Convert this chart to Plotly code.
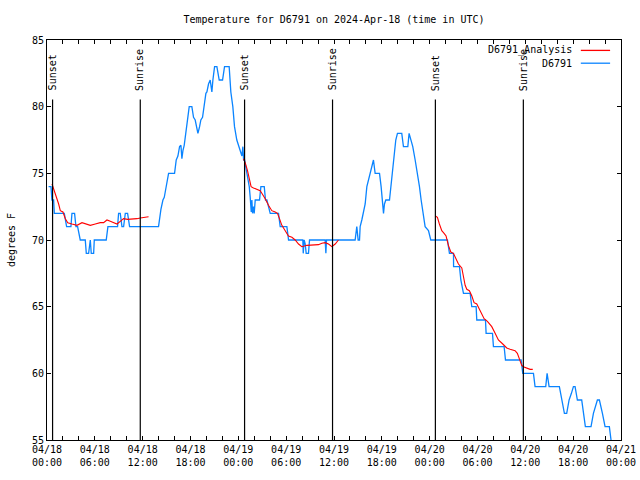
import pandas as pd
import plotly.graph_objects as go

START = pd.Timestamp("2024-04-18 00:00")

# Observed station data (hours since 04/18 00:00 UTC, degrees F)
obs_hours = [0.20, 0.50, 0.62, 0.83, 0.92, 2.17, 2.46, 3.00, 3.13, 3.46, 3.63, 3.84, 4.17, 4.80,
             4.93, 5.22, 5.43, 5.55, 5.85, 5.93, 7.43, 7.64, 8.85, 8.98, 9.19, 9.40, 9.61, 9.82,
             10.11, 10.36, 13.99, 14.12, 14.29, 14.54, 14.71, 14.83, 15.04, 15.25, 16.00, 16.21,
             16.42, 16.63, 16.80, 16.92, 17.05, 17.21, 17.34, 17.55, 17.67, 17.84, 18.17, 18.38,
             18.59, 18.80, 18.93, 19.14, 19.30, 19.51, 19.64, 19.76, 19.93, 20.06, 20.26, 20.47,
             20.60, 20.68, 20.81, 20.89, 21.02, 21.31, 21.60, 22.02, 22.27, 22.85, 23.06, 23.31,
             23.52, 23.81, 24.07, 24.36, 24.45, 24.57, 24.66, 24.78, 24.99, 25.20, 25.37, 25.49,
             25.62, 25.70, 25.78, 25.91, 25.99, 26.12, 26.66, 26.83, 27.25, 27.41, 27.58, 28.00,
             29.04, 29.25, 30.09, 30.30, 32.09, 32.14, 32.26, 32.39, 32.51, 32.80, 32.93, 34.89,
             34.98, 35.06, 38.65, 38.86, 39.03, 39.20, 39.28, 39.49, 39.70, 39.91, 40.12, 40.33,
             40.54, 40.74, 40.95, 41.16, 41.71, 41.91, 42.12, 42.21, 42.33, 42.50, 42.96, 43.13,
             43.38, 43.54, 43.75, 43.96, 44.50, 44.71, 45.26, 45.42, 45.63, 45.88, 46.18, 46.47,
             46.72, 46.93, 47.14, 47.43, 47.85, 48.14, 50.23, 50.48, 50.99, 51.00, 51.74, 51.91,
             52.24, 53.08, 53.28, 53.83, 53.91, 55.00, 55.08, 55.88, 56.00, 57.34, 57.51, 59.47,
             59.68, 61.02, 61.22, 62.56, 62.73, 62.98, 64.27, 64.57, 64.90, 65.19, 65.49, 65.78,
             66.03, 66.24, 66.53, 67.07, 67.28, 67.53, 68.24, 68.54, 69.04, 69.29, 69.67, 70.00,
             70.54, 70.75]
obs_temp = [74, 74, 73, 73, 72, 72, 71, 71, 72, 72, 71, 71, 70, 70,
            69, 69, 70, 69, 69, 70, 70, 71, 71, 72, 72, 71, 71, 72,
            72, 71, 71, 71.7, 72.3, 73, 73.2, 73.6, 74.2, 75, 75, 76,
            76.3, 77, 77.1, 76.1, 76.7, 77.1, 77.7, 78.7, 79.5, 80, 80, 79.2,
            79, 78.5, 78, 78.5, 79, 79.2, 79.7, 80.3, 81, 81.1, 81.7, 82,
            81.6, 81.1, 82, 82.5, 83, 83, 82, 82, 83, 83, 81.1, 80,
            78.5, 77.5, 77, 76.5, 76.3, 77, 76, 76, 75.2, 74.7, 74, 73.2,
            72.1, 73, 72, 72.5, 72, 73, 73, 74, 74, 73, 73, 72,
            72, 71, 71, 70, 70, 69, 70, 69.7, 69, 69, 70, 70,
            69, 70, 70, 71, 70, 70, 71, 71.5, 72, 72.7, 74, 74.5,
            75, 75.6, 76, 75, 75, 74, 72.5, 72, 72.7, 73, 73, 74,
            75.5, 76.5, 77.5, 78, 78, 77, 77, 78, 77.5, 77, 76, 75,
            74, 73, 72, 71, 70.7, 70, 70, 69, 69, 68, 68, 67,
            66, 66, 65, 65, 64, 64, 63, 63, 62, 62, 61, 61,
            60, 60, 59, 59, 60, 59, 59, 58, 57, 57, 58, 58.5,
            59, 59, 58, 58, 57, 56, 56, 57, 58, 58, 57, 56,
            56, 55]

# Analysis series (three evening-to-morning segments)
ana1_hours = [0.63, 1.04, 1.46, 1.67, 2.00, 2.30, 2.60, 3.13, 3.76, 4.39, 5.00, 5.43, 6.06, 6.68,
              7.10, 7.52, 7.94, 8.35, 8.78, 9.19, 9.60, 10.10, 10.66, 11.28, 11.70, 12.20, 12.74]
ana1_temp = [74.2, 73.5, 72.7, 72.2, 72.1, 71.6, 71.3, 71.2, 71.1, 71.3, 71.2, 71.1, 71.2, 71.3,
             71.3, 71.5, 71.4, 71.3, 71.2, 71.4, 71.6, 71.55, 71.55, 71.6, 71.65, 71.7, 71.75]
ana2_hours = [24.65, 24.86, 25.15, 25.40, 25.60, 25.90, 26.33, 26.74, 26.95, 27.37, 27.78, 28.20,
              28.62, 28.91, 29.16, 29.46, 29.88, 30.29, 30.72, 31.13, 31.55, 31.97, 32.60, 33.43,
              34.05, 34.48, 34.89, 35.31, 35.73, 36.15, 36.56]
ana2_temp = [76.1, 75.8, 75.2, 74.5, 74.0, 73.9, 73.8, 73.7, 73.5, 73.1, 72.6, 72.2,
             72.1, 72.0, 71.6, 71.1, 70.7, 70.3, 70.2, 70.0, 69.7, 69.5, 69.6, 69.6,
             69.65, 69.75, 69.8, 69.7, 69.5, 69.7, 70.0]
ana3_hours = [48.72, 48.97, 49.22, 49.52, 49.81, 50.06, 50.35, 50.65, 50.98, 51.32, 51.61, 52.03,
              52.23, 52.45, 52.66, 52.98, 53.29, 53.57, 53.91, 54.24, 54.54, 54.83, 55.24, 55.79,
              56.21, 56.62, 57.17, 57.67, 58.09, 58.71, 59.00, 59.25, 59.55, 59.75, 60.18, 60.60,
              60.93]
ana3_temp = [71.8, 71.7, 71.2, 70.7, 70.5, 70.3, 69.6, 69.1, 69.0, 68.6, 68.2, 67.9,
             67.2, 66.6, 66.3, 66.2, 65.8, 65.3, 65.2, 64.8, 64.5, 64.1, 63.9, 63.5,
             63.0, 62.5, 62.2, 61.9, 61.8, 61.7, 61.5, 61.1, 60.6, 60.5, 60.4, 60.3,
             60.3]

# Sun events
sun_times = ["2024-04-18 00:42", "2024-04-18 11:42", "2024-04-19 00:47",
             "2024-04-19 11:49", "2024-04-20 00:43", "2024-04-20 11:45"]
sun_labels = ["Sunset", "Sunrise", "Sunset", "Sunrise", "Sunset", "Sunrise"]

# Axis ticks
x_tick_times = ["2024-04-18 00:00", "2024-04-18 06:00", "2024-04-18 12:00", "2024-04-18 18:00",
                "2024-04-19 00:00", "2024-04-19 06:00", "2024-04-19 12:00", "2024-04-19 18:00",
                "2024-04-20 00:00", "2024-04-20 06:00", "2024-04-20 12:00", "2024-04-20 18:00",
                "2024-04-21 00:00"]
x_tick_text = ["04/18<br>00:00", "04/18<br>06:00", "04/18<br>12:00", "04/18<br>18:00",
               "04/19<br>00:00", "04/19<br>06:00", "04/19<br>12:00", "04/19<br>18:00",
               "04/20<br>00:00", "04/20<br>06:00", "04/20<br>12:00", "04/20<br>18:00",
               "04/21<br>00:00"]
y_ticks = [55, 60, 65, 70, 75, 80, 85]

FONT = "DejaVu Sans Mono"
RED = "#ff0000"
BLUE = "#0a84ff"
W, H = 640, 480


def to_time(hours):
    return [START + pd.Timedelta(hours=h) for h in hours]


fig = go.Figure()
fig.add_trace(go.Scatter(x=to_time(obs_hours), y=obs_temp, mode="lines",
                         line=dict(color=BLUE, width=1.3), name="D6791"))
for hrs, tmp in [(ana1_hours, ana1_temp), (ana2_hours, ana2_temp), (ana3_hours, ana3_temp)]:
    fig.add_trace(go.Scatter(x=to_time(hrs), y=tmp, mode="lines",
                             line=dict(color=RED, width=1.1), name="D6791_Analysis"))

for t, lab in zip(sun_times, sun_labels):
    fig.add_shape(type="line", xref="x", yref="paper", x0=t, x1=t, y0=0, y1=0.851,
                  line=dict(color="black", width=1.2))
    fig.add_annotation(x=t, xref="x", yref="paper", y=0.868, text=lab, textangle=-90,
                       showarrow=False, xanchor="center", yanchor="bottom",
                       font=dict(family=FONT, size=10, color="black"))

# manual legend (key on right like the original)
legend_rows = [("D6791_Analysis", RED, 0.974), ("D6791", BLUE, 0.942)]
for txt, col, yy in legend_rows:
    fig.add_annotation(x=0.918, y=yy, xref="paper", yref="paper", text=txt, showarrow=False,
                       xanchor="right", yanchor="middle",
                       font=dict(family=FONT, size=10, color="black"))
    fig.add_shape(type="line", xref="paper", yref="paper", x0=0.930, x1=0.981, y0=yy, y1=yy,
                  line=dict(color=col, width=1.3))

fig.update_layout(
    width=W, height=H,
    margin=dict(l=47, r=19, t=40, b=40, autoexpand=False),
    paper_bgcolor="white", plot_bgcolor="white",
    showlegend=False,
    font=dict(family=FONT, size=10, color="black"),
    title=dict(text="Temperature for D6791 on 2024-Apr-18 (time in UTC)", x=0.5, xref="paper",
               xanchor="center", y=1 - 19 / H, yanchor="middle",
               font=dict(family=FONT, size=10, color="black")),
)
fig.update_xaxes(
    type="date", range=[x_tick_times[0], x_tick_times[-1]], automargin=False,
    tickmode="array", tickvals=x_tick_times, ticktext=x_tick_text,
    showgrid=False, zeroline=False,
    showline=True, linecolor="black", linewidth=1, mirror="allticks",
    ticks="inside", ticklen=4, tickcolor="black", tickwidth=1,
    minor=dict(dtick=2 * 3600 * 1000, ticks="inside", ticklen=4, tickcolor="black", showgrid=False),
    tickfont=dict(family=FONT, size=10, color="black"),
)
fig.update_yaxes(
    range=[55, 85], tickmode="array", tickvals=y_ticks, automargin=False,
    showgrid=False, zeroline=False,
    showline=True, linecolor="black", linewidth=1, mirror="allticks",
    ticks="inside", ticklen=4, tickcolor="black", tickwidth=1,
    tickfont=dict(family=FONT, size=10, color="black"),
    title=dict(text="degrees F", standoff=14, font=dict(family=FONT, size=10, color="black")),
)

fig.write_html("out.html", config={"displayModeBar": False},
               post_script="document.body.style.margin='0';document.body.style.overflow='hidden';")
